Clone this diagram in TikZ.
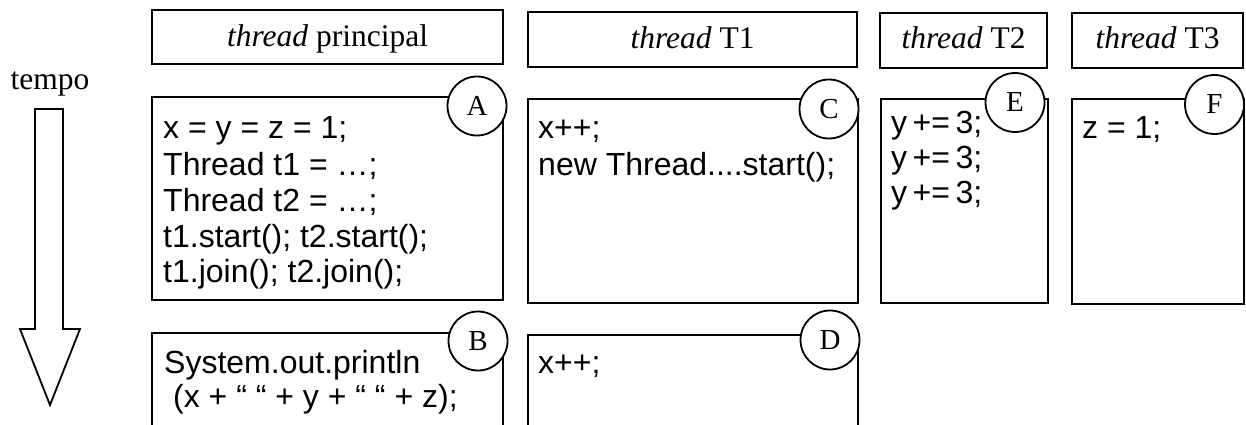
\documentclass[tikz,border=0pt]{standalone}
\usepackage{fontspec}
\setmainfont{Liberation Serif}
\newfontfamily\codefont{Liberation Sans}
\usetikzlibrary{fit}
% a statement with slightly narrower gaps between its tokens
\newcommand{\yplus}{y\hspace{5.5pt}+=\hspace{5.5pt}3;}

\begin{document}
\begin{tikzpicture}[x=1pt,y=-1pt,
  frame/.style={draw, line width=1.8pt, inner sep=0pt},
  title/.style={font=\fontsize{31.5}{36}\selectfont, anchor=base, inner sep=0pt},
  code/.style={font=\codefont\fontsize{32}{36}\selectfont, anchor=base west, inner sep=0pt},
  tag/.style={circle, draw, fill=white, line width=1.8pt, minimum size=59pt,
              inner sep=0pt, font=\fontsize{29}{32}\selectfont},
]
\useasboundingbox (0,0) rectangle (1246,425);
\begin{scope}
\clip (0,0) rectangle (1246,425);

% time arrow
\node[title] (tempo) at (50,90) {tempo};
\draw[line width=1.8pt, line join=miter]
  (35,109) -- (63,109) -- (63,329) -- (80,329) -- (50,405) -- (20,329) -- (35,329) -- cycle;

% column headers
\node[frame, fit={(152,10) (503,64)}] (hmain) {};
\node[frame, fit={(528,12) (857,67)}] (hone) {};
\node[frame, fit={(880,13) (1047,68)}] (htwo) {};
\node[frame, fit={(1072,13) (1243,68)}] (hthree) {};
\node[title] (tmain) at (327.5,47) {\textit{thread} principal};
\node[title] (tone) at (692.5,49) {\textit{thread} T1};
\node[title] (ttwo) at (963.5,49) {\textit{thread} T2};
\node[title] (tthree) at (1157.5,49) {\textit{thread} T3};

% code blocks
\node[frame, fit={(152,97) (503,300)}] (bA) {};
\node[frame, fit={(528,99) (858,303)}] (bC) {};
\node[frame, fit={(881,99) (1048,303)}] (bE) {};
\node[frame, fit={(1072,99) (1244,304)}] (bF) {};
\node[frame, fit={(152,333) (503,460)}] (bB) {};
\node[frame, fit={(528,335) (858,460)}] (bD) {};

% main thread, first part
\node[code] (a1) at (163,139) {x = y = z = 1;};
\node[code] (a2) at (163,175.5) {Thread t1 = …;};
\node[code] (a3) at (163,211.5) {Thread t2 = …;};
\node[code] (a4) at (163,247) {t1.start(); t2.start();};
\node[code] (a5) at (163,282.5) {t1.join(); t2.join();};

% main thread, after the joins
\node[code] (b1) at (164,373) {System.out.println};
\node[code] (b2) at (173,407) {(x + “ “ + y + “ “ + z);};

% thread T1
\node[code] (c1) at (538,138) {x++;};
\node[code] (c2) at (538,175) {new Thread....start();};
\node[code] (d1) at (538,373) {x++;};

% thread T2
\node[code] (e1) at (891,133) {\yplus};
\node[code] (e2) at (891,168) {\yplus};
\node[code] (e3) at (891,203) {\yplus};

% thread T3
\node[code] (f1) at (1082,139) {z = 1;};

% block labels
\node[tag] (cA) at (477,106) {A};
\node[tag] (cB) at (478,341) {B};
\node[tag] (cC) at (829,109) {C};
\node[tag] (cD) at (830,340) {D};
\node[tag] (cE) at (1015,102.5) {E};
\node[tag] (cF) at (1214.5,104.5) {F};
\end{scope}
\end{tikzpicture}
\end{document}
